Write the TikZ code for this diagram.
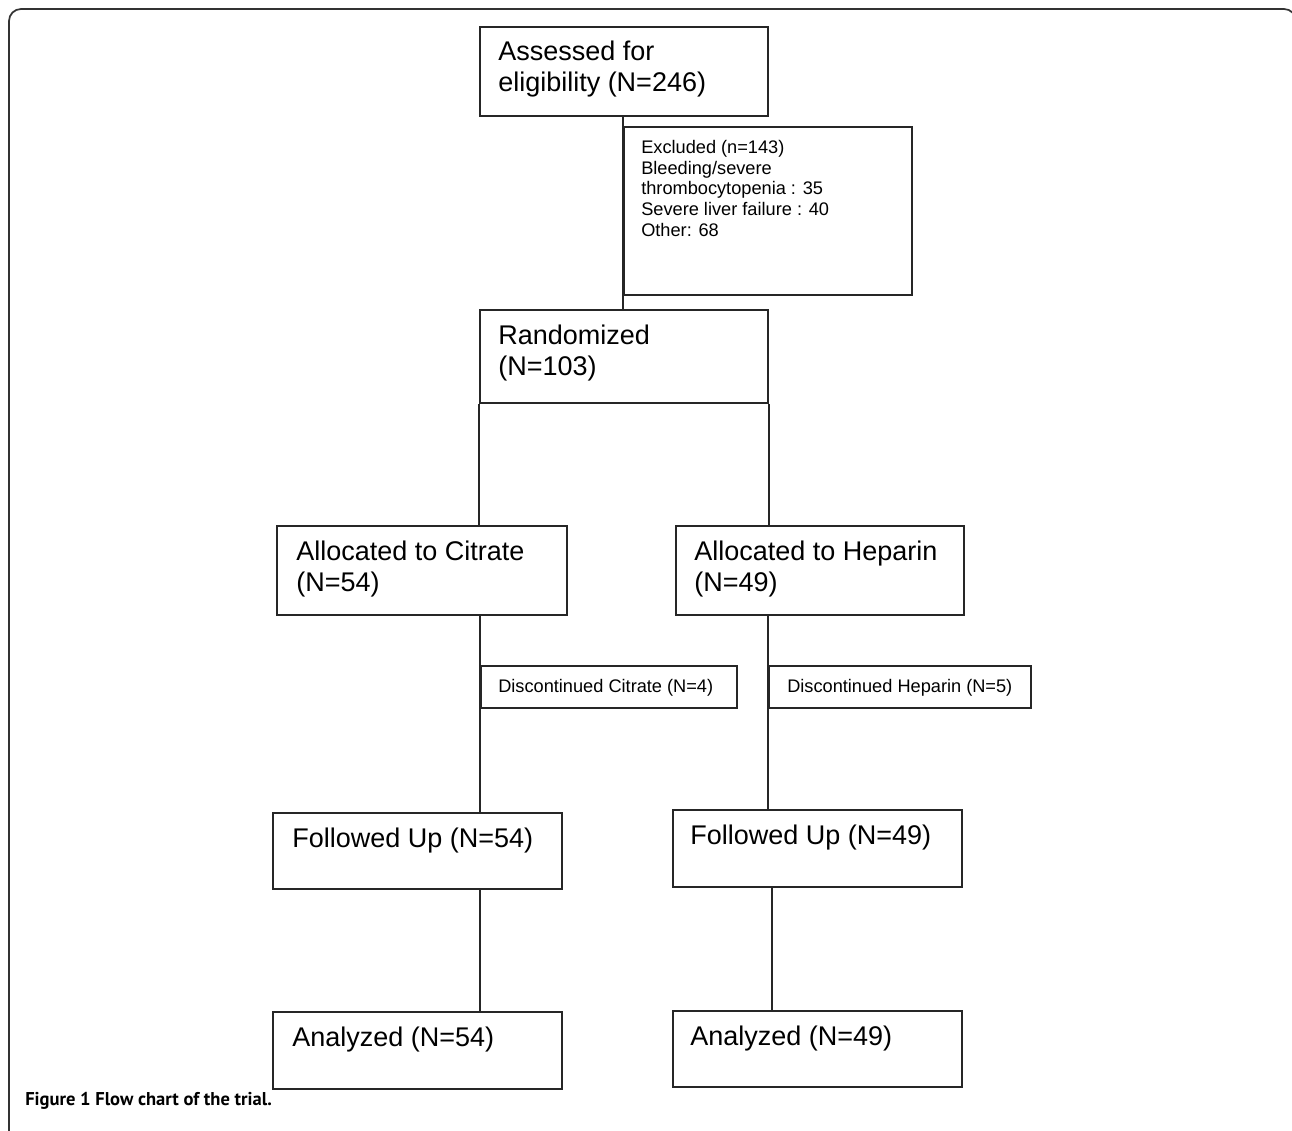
\documentclass[tikz,border=0pt]{standalone}
\usepackage{fontspec}
\setmainfont{Liberation Sans}
\newfontfamily\capfont{PT Sans}
\usetikzlibrary{fit,calc}
\begin{document}
\begin{tikzpicture}[x=0.75pt,y=-0.75pt,
  box/.style={draw=black!85, line width=1.2pt, inner sep=0pt},
  conn/.style={draw=black!85, line width=1.2pt},
  frameline/.style={draw=black!80, line width=1.3pt, rounded corners=9pt},
  bigtext/.style={font=\fontsize{20.25}{23.25}\selectfont, anchor=base west, inner sep=0pt, align=left},
  smalltext/.style={font=\fontsize{13.65}{15.45}\selectfont, anchor=base west, inner sep=0pt, align=left},
  captext/.style={font=\capfont\bfseries\fontsize{13.9}{16}\selectfont, anchor=base west, inner sep=0pt}]
\useasboundingbox (0,0) rectangle (1292,1131);
\begin{scope}
  \clip (0,0) rectangle (1292,1131);
  \draw[frameline] (9,1145) -- (9,9) -- (1296,9) -- (1296,1145);
\end{scope}
% boxes
\node[box, fit={(480,27) (768,116)}] (assess) {};
\node[box, fit={(624,127) (912,295)}] (excl) {};
\node[box, fit={(480,310) (768,403)}] (rand) {};
\node[box, fit={(277,526) (567,615)}] (allocC) {};
\node[box, fit={(676,526) (964,615)}] (allocH) {};
\node[box, fit={(481,666) (737,708)}] (discC) {};
\node[box, fit={(769,666) (1031,708)}] (discH) {};
\node[box, fit={(273,813) (562,889)}] (follC) {};
\node[box, fit={(673,810) (962,887)}] (follH) {};
\node[box, fit={(273,1012) (562,1089)}] (anaC) {};
\node[box, fit={(673,1011) (962,1087)}] (anaH) {};
% texts (base anchor = baseline of the last line)
\node[bigtext] (assessT) at (498,92) {Assessed for\\eligibility (N=246)};
\node[smalltext] (exclT) at (641,236) {Excluded (n=143)\\Bleeding/severe\\thrombocytopenia : 35\\Severe liver failure : 40\\Other: 68};
\node[bigtext] (randT) at (498,375) {Randomized\\(N=103)};
\node[bigtext] (allocCT) at (296,591) {Allocated to Citrate\\(N=54)};
\node[bigtext] (allocHT) at (694,591) {Allocated to Heparin\\(N=49)};
\node[smalltext] (discCT) at (498,692) {Discontinued Citrate (N=4)};
\node[smalltext] (discHT) at (787,692) {Discontinued Heparin (N=5)};
\node[bigtext] (follCT) at (292,847) {Followed Up (N=54)};
\node[bigtext] (follHT) at (690,844) {Followed Up (N=49)};
\node[bigtext] (anaCT) at (292,1046) {Analyzed (N=54)};
\node[bigtext] (anaHT) at (690,1045) {Analyzed (N=49)};
\node[captext] (cap) at (25,1105) {Figure 1 Flow chart of the trial.};
% connectors
\draw[conn] (excl.west |- assess.south) -- (excl.west |- rand.north);
\draw[conn] (rand.south west) -- (rand.south west |- allocC.north);
\draw[conn] (rand.south east) -- (rand.south east |- allocH.north);
\draw[conn] (discC.west |- allocC.south) -- (discC.west |- follC.north);
\draw[conn] (discH.west |- allocH.south) -- (discH.west |- follH.north);
\draw[conn] (discC.west |- follC.south) -- (discC.west |- anaC.north);
\coordinate (hlow) at ($(discH.west)+(4,0)$);
\draw[conn] (hlow |- follH.south) -- (hlow |- anaH.north);
\end{tikzpicture}
\end{document}
